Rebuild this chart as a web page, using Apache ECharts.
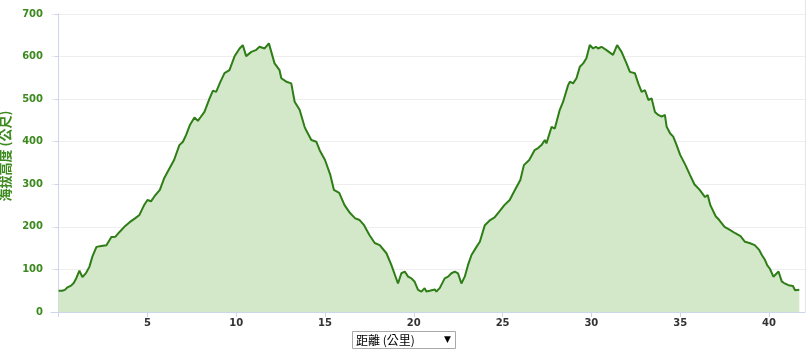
<!DOCTYPE html>
<html>
<head>
<meta charset="utf-8">
<script src="https://cdn.jsdelivr.net/npm/echarts@6/dist/echarts.min.js"></script>
<style>
html,body{margin:0;padding:0;background:#fff;}
#chart{width:808px;height:351px;}
</style>
</head>
<body>
<div id="chart"></div>
<script>
const distances = [0.0,0.2,0.35,0.5,0.7,0.85,1.0,1.17,1.34,1.55,1.73,1.9,2.13,2.4,2.69,2.97,3.2,3.43,3.7,4.0,4.3,4.55,4.8,5.0,5.2,5.4,5.7,5.95,6.2,6.5,6.8,7.0,7.18,7.4,7.65,7.84,8.0,8.21,8.5,8.69,8.87,9.1,9.34,9.62,9.9,10.19,10.37,10.56,10.85,11.1,11.31,11.6,11.84,12.16,12.44,12.54,12.82,13.1,13.29,13.57,13.85,13.94,14.23,14.51,14.7,15.0,15.3,15.5,15.8,16.1,16.4,16.7,16.95,17.2,17.5,17.8,18.08,18.46,18.74,19.11,19.3,19.49,19.68,19.87,20.05,20.24,20.43,20.61,20.71,20.9,21.18,21.27,21.46,21.74,21.93,22.12,22.31,22.49,22.68,22.87,23.05,23.25,23.53,23.72,24.0,24.3,24.55,24.8,25.1,25.4,25.7,26.0,26.2,26.5,26.8,27.0,27.19,27.38,27.47,27.76,27.94,28.22,28.41,28.5,28.69,28.79,28.97,29.16,29.35,29.54,29.72,29.91,30.1,30.25,30.38,30.57,30.85,31.22,31.45,31.7,31.98,32.17,32.45,32.64,32.83,33.02,33.21,33.39,33.58,33.77,33.96,34.14,34.24,34.43,34.61,34.8,35.0,35.3,35.55,35.8,36.1,36.4,36.55,36.7,37.0,37.2,37.5,37.8,38.1,38.4,38.65,38.9,39.2,39.45,39.6,39.78,39.9,40.06,40.25,40.54,40.72,40.85,41.1,41.35,41.47,41.71];
const elevations = [50,50,52,58,62,68,80,97,82,92,106,130,153,155,157,176,177,188,200,211,220,228,250,263,260,272,287,315,334,357,392,400,416,440,457,449,458,470,502,520,517,540,561,568,600,619,627,601,611,615,623,619,631,584,568,549,541,537,494,475,435,427,404,400,380,357,322,287,280,251,233,220,216,204,181,162,157,138,110,67,91,95,83,79,71,52,48,56,48,50,53,48,56,79,83,91,95,91,67,83,110,134,153,165,204,216,222,235,251,263,287,310,345,357,380,385,392,404,396,435,431,475,494,490,533,541,537,549,576,584,596,627,619,623,619,623,615,604,627,611,584,564,561,537,517,521,498,502,470,463,459,463,435,420,412,392,369,345,322,300,287,270,275,251,225,216,200,193,185,178,165,162,157,146,134,122,110,101,83,95,72,68,63,61,51,52];
const xLabelValues = [5,10,15,20,25,30,35,40];
const xTickValues = [0,5,10,15,20,25,30,35,40];
const yAxisTitle = '海拔高度 (公尺)';
const selectorText = '距離 (公里)';

const seriesData = distances.map((d, i) => [d, elevations[i]]);

const chart = echarts.init(document.getElementById('chart'), null, {renderer: 'canvas'});
chart.setOption({
  animation: false,
  backgroundColor: '#ffffff',
  grid: {left: 51, right: 3, top: 14, bottom: 39, containLabel: false, outerBoundsMode: 'none'},
  xAxis: {
    type: 'value',
    min: -0.43,
    max: 42.03,
    axisLine: {show: true, lineStyle: {color: '#ccd6eb', width: 1}},
    axisTick: {show: true, customValues: xTickValues, length: 5, lineStyle: {color: '#ccd6eb'}},
    axisLabel: {
      show: true, customValues: xLabelValues, margin: 6,
      color: '#333333', fontWeight: 'bold', fontSize: 10, fontFamily: 'DejaVu Sans'
    },
    splitLine: {show: false}
  },
  yAxis: {
    type: 'value',
    min: 0, max: 700, interval: 100,
    name: yAxisTitle,
    nameLocation: 'middle',
    nameGap: 35,
    nameRotate: 90,
    nameTextStyle: {color: '#3d8a1f', fontWeight: 'bold', fontSize: 13, fontFamily: 'Noto Sans CJK TC', padding: [0, 0, 0, 14]},
    axisLine: {show: true, lineStyle: {color: '#ccd6eb', width: 1}},
    axisTick: {show: true, length: 4, lineStyle: {color: '#ccd6eb'}},
    axisLabel: {color: '#3d8a1f', fontWeight: 'bold', fontSize: 10, fontFamily: 'DejaVu Sans', margin: 8},
    splitLine: {show: true, lineStyle: {color: '#eeeeee', width: 1}}
  },
  series: [{
    type: 'line',
    data: seriesData,
    showSymbol: false,
    symbol: 'none',
    smooth: false,
    lineStyle: {color: '#2e7d17', width: 2},
    areaStyle: {color: '#d3e8c9', opacity: 1, origin: 'start'}
  }],
  graphic: [
    {type: 'line', shape: {x1: 805.5, y1: 0, x2: 805.5, y2: 312}, style: {stroke: '#e6e6e6', lineWidth: 1}, silent: true},
    {type: 'rect', shape: {x: 352.5, y: 331.5, width: 103, height: 17}, style: {fill: '#ffffff', stroke: '#a9a9a9', lineWidth: 1}},
    {type: 'text', x: 356, y: 340, style: {text: selectorText, fill: '#000000', font: '12px "Noto Sans CJK TC"', verticalAlign: 'middle'}},
    {type: 'text', x: 444, y: 340, style: {text: '▼', fill: '#000000', font: '9px "DejaVu Sans"', verticalAlign: 'middle'}}
  ]
});
</script>
</body>
</html>
